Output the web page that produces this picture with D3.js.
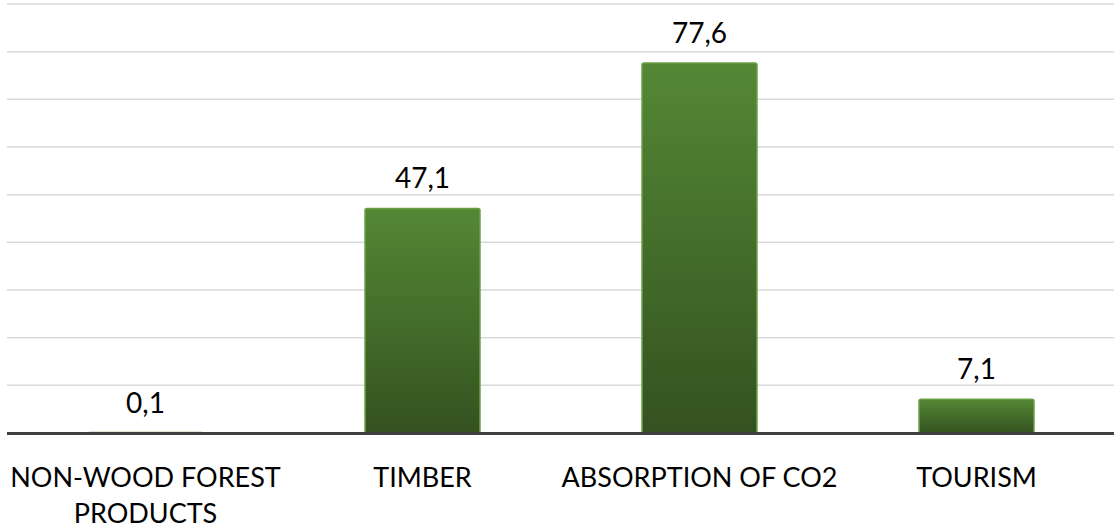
<!DOCTYPE html>
<html>
<head>
<meta charset="utf-8">
<script src="https://cdn.jsdelivr.net/npm/d3@7/dist/d3.min.js"></script>
<style>
  html, body { margin: 0; padding: 0; background: #fff; }
  svg { display: block; }
  text { font-family: Lato, "Open Sans", sans-serif; fill: #000; }
</style>
</head>
<body>
<svg id="chart" width="1114" height="528"></svg>
<script>
// Forest ecosystem values
const categories = ["NON-WOOD FOREST PRODUCTS", "TIMBER", "ABSORPTION OF CO2", "TOURISM"];
const categoryLines = [["NON-WOOD FOREST", "PRODUCTS"], ["TIMBER"], ["ABSORPTION OF CO2"], ["TOURISM"]];
const values = [0.1, 47.1, 77.6, 7.1];
const valueLabels = ["0,1", "47,1", "77,6", "7,1"];
const gridTicks = [10, 20, 30, 40, 50, 60, 70, 80, 90];

const W = 1114, H = 528;
const svg = d3.select("#chart");

const x = d3.scaleBand().domain(categories).range([7, 1115]).padding(0);
const y = d3.scaleLinear().domain([0, 90]).range([433, 4]);
const barW = x.bandwidth() * 0.415;

const defs = svg.append("defs");
const grad = defs.append("linearGradient")
  .attr("id", "barFill").attr("x1", 0).attr("y1", 0).attr("x2", 0).attr("y2", 1);
grad.append("stop").attr("offset", "0%").attr("stop-color", "#548835");
grad.append("stop").attr("offset", "100%").attr("stop-color", "#345220");

// horizontal gridlines
svg.append("g")
  .selectAll("line")
  .data(gridTicks)
  .join("line")
  .attr("x1", 7).attr("x2", W)
  .attr("y1", d => y(d)).attr("y2", d => y(d))
  .attr("stroke", "#d9d9d9").attr("stroke-width", 1.5);

// bars
svg.append("g")
  .selectAll("rect")
  .data(values)
  .join("rect")
  .attr("x", (d, i) => x(categories[i]) + (x.bandwidth() - barW) / 2)
  .attr("y", d => y(d))
  .attr("width", barW)
  .attr("height", d => y(0) - y(d))
  .attr("rx", 2)
  .attr("fill", "url(#barFill)")
  .attr("stroke", "#6a9e45")
  .attr("stroke-width", 1.5);

// baseline
svg.append("line")
  .attr("x1", 7).attr("x2", W)
  .attr("y1", y(0) + 0.5).attr("y2", y(0) + 0.5)
  .attr("stroke", "#404040").attr("stroke-width", 3);

// value labels
svg.append("g")
  .selectAll("text")
  .data(values)
  .join("text")
  .attr("x", (d, i) => x(categories[i]) + x.bandwidth() / 2)
  .attr("y", d => y(d) - 20)
  .attr("text-anchor", "middle")
  .attr("font-size", 28)
  .text((d, i) => valueLabels[i]);

// category labels
const cat = svg.append("g")
  .selectAll("text")
  .data(categories)
  .join("text")
  .attr("x", d => x(d) + x.bandwidth() / 2)
  .attr("y", 487)
  .attr("text-anchor", "middle")
  .attr("font-size", 27);
cat.each(function (d, i) {
  d3.select(this).selectAll("tspan")
    .data(categoryLines[i])
    .join("tspan")
    .attr("x", x(d) + x.bandwidth() / 2)
    .attr("dy", (t, j) => j === 0 ? 0 : 36)
    .text(t => t);
});
</script>
</body>
</html>
